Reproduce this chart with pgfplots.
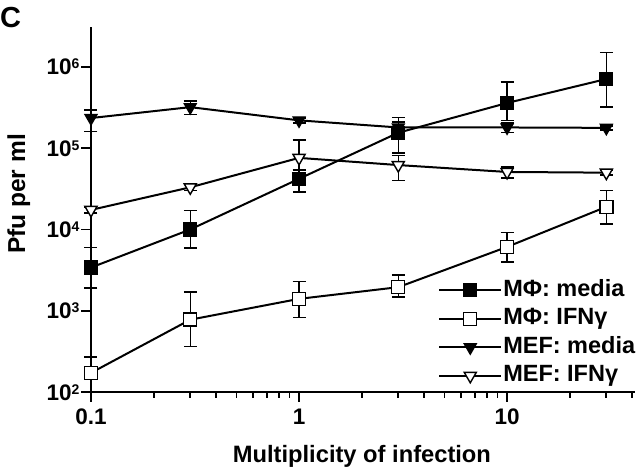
\documentclass[border=0pt]{standalone}
\usepackage{fontspec}
\setmainfont{Liberation Sans}
\usepackage{pgfplots}
\usepackage{pgfplotstable}
\pgfplotsset{compat=1.18}

\pgfplotstableread{
x y ep em
0.1 3400 2600 1500
0.3 10000 7000 4100
1 42000 13000 13000
3 155000 85000 68000
10 360000 290000 140000
30 710000 790000 390000
}\mpmedia
\pgfplotstableread{
x y ep em
0.1 172 98 70
0.3 776 924 416
1 1400 900 570
3 1950 800 470
10 6100 3000 2100
30 19000 11000 7300
}\mpifn
\pgfplotstableread{
x y ep em
0.1 235000 60000 75000
0.3 320000 60000 60000
1 220000 15000 15000
3 180000 30000 30000
10 180000 25000 25000
30 178000 10000 10000
}\mefmedia
\pgfplotstableread{
x y ep em
0.1 17400 1500 1500
0.3 33000 3000 3000
1 76000 50000 23000
3 62000 20000 22000
10 51000 8000 8000
30 50000 3000 3000
}\mefifn

\newcommand{\tp}[1]{10\raisebox{6pt}{\fontsize{14}{14}\selectfont #1}}

\begin{document}
\begin{tikzpicture}
\path[use as bounding box] (-91pt,-80pt) rectangle (549pt,392pt);
\node[anchor=base west, inner sep=0pt, font=\fontsize{29}{33}\selectfont\bfseries] at (-91pt,364pt) {C};
\begin{axis}[
  at={(0pt,0pt)}, anchor=south west, scale only axis,
  width=544pt, height=365pt,
  xmode=log, ymode=log,
  xmin=0.1, xmax=41.2, ymin=100, ymax=3.1e6,
  axis x line*=bottom, axis y line*=left,
  axis line style={line width=2pt},
  every tick/.style={black, line width=1.8pt},
  tick align=outside,
  major tick length=10pt, minor tick length=6pt,
  xtick={0.1,1,10}, xticklabels={0.1,1,10},
  minor xtick={0.2,0.3,0.4,0.5,0.6,0.7,0.8,0.9,2,3,4,5,6,7,8,9,20,30,40},
  ytick={100,1000,10000,100000,1000000},
  yticklabels={\tp{2},\tp{3},\tp{4},\tp{5},\tp{6}},
  yminorticks=false,
  tick label style={font=\fontsize{22.5}{26}\selectfont\bfseries},
  yticklabel style={anchor=base east, yshift=-8pt, inner sep=1.5pt},
  xticklabel style={inner sep=1pt, yshift=-6pt},
  xlabel={Multiplicity of infection},
  ylabel={Pfu per ml},
  every axis x label/.style={at={(axis description cs:0.498,-0.1945)}, anchor=base, font=\fontsize{23.7}{27}\selectfont\bfseries},
  every axis y label/.style={at={(axis description cs:-0.1213,0.5425)}, rotate=90, anchor=base, font=\fontsize{24.5}{28}\selectfont\bfseries},
  clip=false,
  legend cell align=left,
  legend style={at={(axis description cs:0.638,0.312)}, anchor=north west,
    draw=none, fill=none, inner sep=0pt, row sep=4.5pt, column sep=0pt,
    font=\fontsize{23.5}{27}\selectfont\bfseries,
    nodes={inner sep=1pt, text height=17pt, text depth=5pt}},
  legend image code/.code={\draw[mark repeat=2,mark phase=2,#1] plot coordinates {(0pt,0pt) (31pt,0pt) (62pt,0pt)};},
  error bars/error bar style={line width=1.4pt},
  error bars/error mark options={rotate=90, mark size=6.5pt, line width=1.4pt},
]
\addplot[black, line width=2pt, mark=square*, mark size=6.5pt, mark options={solid, fill=black, line width=1.2pt},
  error bars/.cd, y dir=both, y explicit]
  table[x=x, y=y, y error plus=ep, y error minus=em] {\mpmedia};
\addlegendentry{MΦ: media}
\addplot[black, line width=2pt, mark=square*, mark size=6.5pt, mark options={solid, fill=white, line width=1.4pt},
  error bars/.cd, y dir=both, y explicit]
  table[x=x, y=y, y error plus=ep, y error minus=em] {\mpifn};
\addlegendentry{MΦ: IFNγ}
\addplot[black, line width=2pt, mark=triangle*, mark size=7pt, mark options={solid, rotate=180, fill=black, line width=1.2pt},
  error bars/.cd, y dir=both, y explicit]
  table[x=x, y=y, y error plus=ep, y error minus=em] {\mefmedia};
\addlegendentry{MEF: media}
\addplot[black, line width=2pt, mark=triangle*, mark size=7pt, mark options={solid, rotate=180, fill=white, line width=1.4pt},
  error bars/.cd, y dir=both, y explicit]
  table[x=x, y=y, y error plus=ep, y error minus=em] {\mefifn};
\addlegendentry{MEF: IFNγ}
\end{axis}
\end{tikzpicture}
\end{document}
